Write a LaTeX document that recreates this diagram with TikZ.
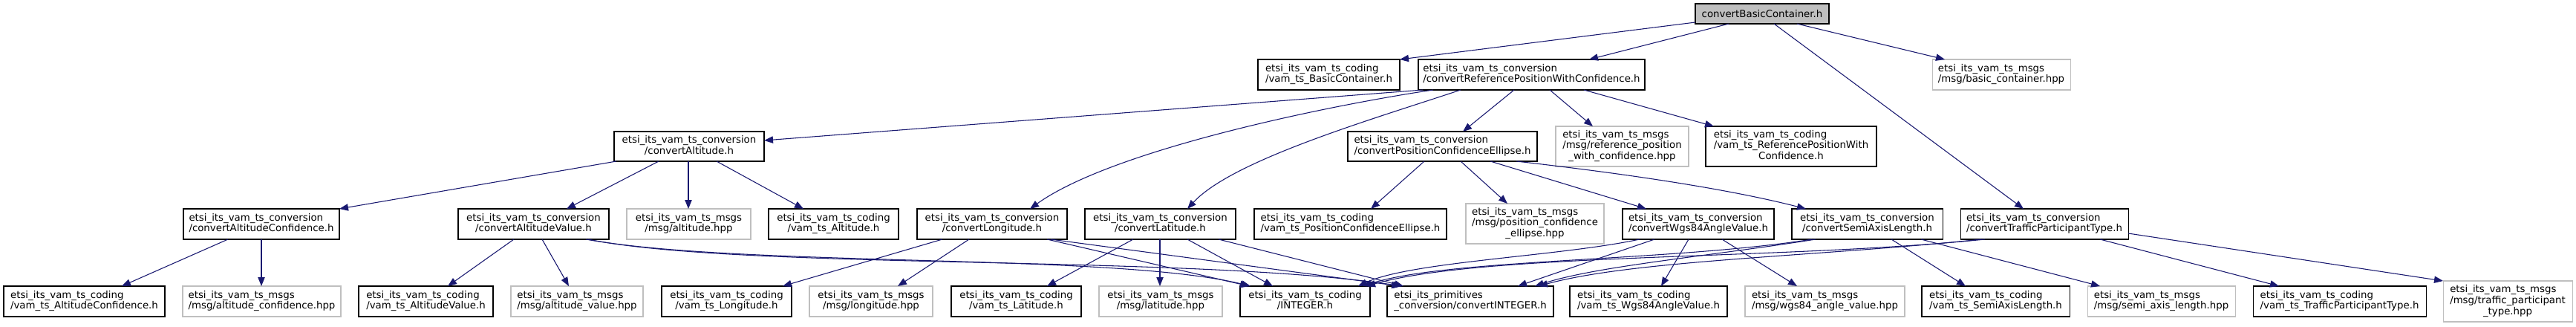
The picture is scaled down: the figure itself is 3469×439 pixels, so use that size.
\documentclass[tikz,border=0pt]{standalone}
\usepackage{fontspec}
\setmainfont{DejaVu Sans}
\usetikzlibrary{arrows.meta,calc}
\definecolor{edgeblue}{HTML}{191970}
\definecolor{greyline}{HTML}{BFBFBF}
\newcommand\Tw[2]{\begin{tabular}{@{}l@{}}#1\\\multicolumn{1}{@{}c@{}}{#2}\end{tabular}}
\newcommand\Th[3]{\begin{tabular}{@{}l@{}}#1\\#2\\\multicolumn{1}{@{}c@{}}{#3}\end{tabular}}
\newcommand\gn[7]{\node[#2,minimum width={(#5-#3)*0.75pt},minimum height={(#6-#4)*0.75pt}] (#1) at ({(#3+#5)/2},{(#4+#6)/2}) {#7};}
\tikzset{
  gbox/.style={inner sep=0pt, outer sep=0pt, line width=0.8pt, fill=white,
    font=\fontsize{10}{11}\selectfont, align=center},
  hdr/.style={gbox, draw=black},
  ext/.style={gbox, draw=greyline},
  root/.style={gbox, draw=black, fill=greyline},
  dep/.style={draw=edgeblue, line width=0.8pt, -{Triangle[length=9pt,width=7pt]}},
}
\begin{document}
\begin{tikzpicture}[x=0.75pt,y=-0.75pt]
\useasboundingbox (0,0) rectangle (3469,439);
% row 0
\gn{top}{root}{2283}{5}{2463}{32}{convertBasicContainer.h}
% row 1
\gn{bc}{hdr}{1694}{80}{1885}{121}{\Tw{etsi\_its\_vam\_ts\_coding}{/vam\_ts\_BasicContainer.h}}
\gn{rp}{hdr}{1910}{80}{2215}{121}{\Tw{etsi\_its\_vam\_ts\_conversion}{/convertReferencePositionWithConfidence.h}}
\gn{bch}{ext}{2602}{80}{2788}{121}{\Tw{etsi\_its\_vam\_ts\_msgs}{/msg/basic\_container.hpp}}
% row 2
\gn{alt}{hdr}{827}{177}{1029}{217}{\Tw{etsi\_its\_vam\_ts\_conversion}{/convertAltitude.h}}
\gn{pce}{hdr}{1815}{177}{2070}{217}{\Tw{etsi\_its\_vam\_ts\_conversion}{/convertPositionConfidenceEllipse.h}}
\gn{rph}{ext}{2095}{170}{2274}{224}{\Th{etsi\_its\_vam\_ts\_msgs}{/msg/reference\_position}{\_with\_confidence.hpp}}
\gn{rpc}{hdr}{2297}{170}{2527}{224}{\Th{etsi\_its\_vam\_ts\_coding}{/vam\_ts\_ReferencePositionWith}{Confidence.h}}
% row 3
\gn{altc}{hdr}{247}{281}{457}{322}{\Tw{etsi\_its\_vam\_ts\_conversion}{/convertAltitudeConfidence.h}}
\gn{altv}{hdr}{617}{281}{820}{322}{\Tw{etsi\_its\_vam\_ts\_conversion}{/convertAltitudeValue.h}}
\gn{alth}{ext}{844}{281}{1011}{322}{\Tw{etsi\_its\_vam\_ts\_msgs}{/msg/altitude.hpp}}
\gn{altd}{hdr}{1035}{281}{1210}{322}{\Tw{etsi\_its\_vam\_ts\_coding}{/vam\_ts\_Altitude.h}}
\gn{lon}{hdr}{1235}{281}{1437}{322}{\Tw{etsi\_its\_vam\_ts\_conversion}{/convertLongitude.h}}
\gn{lat}{hdr}{1461}{281}{1664}{322}{\Tw{etsi\_its\_vam\_ts\_conversion}{/convertLatitude.h}}
\gn{pced}{hdr}{1689}{281}{1948}{322}{\Tw{etsi\_its\_vam\_ts\_coding}{/vam\_ts\_PositionConfidenceEllipse.h}}
\gn{pceh}{ext}{1974}{274}{2160}{328}{\Th{etsi\_its\_vam\_ts\_msgs}{/msg/position\_confidence}{\_ellipse.hpp}}
\gn{wgs}{hdr}{2185}{281}{2389}{322}{\Tw{etsi\_its\_vam\_ts\_conversion}{/convertWgs84AngleValue.h}}
\gn{semi}{hdr}{2413}{281}{2616}{322}{\Tw{etsi\_its\_vam\_ts\_conversion}{/convertSemiAxisLength.h}}
\gn{tpt}{hdr}{2640}{281}{2866}{322}{\Tw{etsi\_its\_vam\_ts\_conversion}{/convertTrafficParticipantType.h}}
% row 4
\gn{altcd}{hdr}{5}{385}{222}{426}{\Tw{etsi\_its\_vam\_ts\_coding}{/vam\_ts\_AltitudeConfidence.h}}
\gn{altch}{ext}{246}{385}{459}{426}{\Tw{etsi\_its\_vam\_ts\_msgs}{/msg/altitude\_confidence.hpp}}
\gn{altvd}{hdr}{483}{385}{664}{426}{\Tw{etsi\_its\_vam\_ts\_coding}{/vam\_ts\_AltitudeValue.h}}
\gn{altvh}{ext}{688}{385}{866}{426}{\Tw{etsi\_its\_vam\_ts\_msgs}{/msg/altitude\_value.hpp}}
\gn{lond}{hdr}{891}{385}{1066}{426}{\Tw{etsi\_its\_vam\_ts\_coding}{/vam\_ts\_Longitude.h}}
\gn{lonh}{ext}{1090}{385}{1256}{426}{\Tw{etsi\_its\_vam\_ts\_msgs}{/msg/longitude.hpp}}
\gn{latd}{hdr}{1281}{385}{1456}{426}{\Tw{etsi\_its\_vam\_ts\_coding}{/vam\_ts\_Latitude.h}}
\gn{lath}{ext}{1480}{385}{1646}{426}{\Tw{etsi\_its\_vam\_ts\_msgs}{/msg/latitude.hpp}}
\gn{intd}{hdr}{1670}{385}{1845}{426}{\Tw{etsi\_its\_vam\_ts\_coding}{/INTEGER.h}}
\gn{cint}{hdr}{1868}{385}{2092}{426}{\Tw{etsi\_its\_primitives}{\_conversion/convertINTEGER.h}}
\gn{wgsd}{hdr}{2114}{385}{2326}{426}{\Tw{etsi\_its\_vam\_ts\_coding}{/vam\_ts\_Wgs84AngleValue.h}}
\gn{wgsh}{ext}{2350}{385}{2565}{426}{\Tw{etsi\_its\_vam\_ts\_msgs}{/msg/wgs84\_angle\_value.hpp}}
\gn{semid}{hdr}{2588}{385}{2787}{426}{\Tw{etsi\_its\_vam\_ts\_coding}{/vam\_ts\_SemiAxisLength.h}}
\gn{semih}{ext}{2811}{385}{3010}{426}{\Tw{etsi\_its\_vam\_ts\_msgs}{/msg/semi\_axis\_length.hpp}}
\gn{tptd}{hdr}{3034}{385}{3267}{426}{\Tw{etsi\_its\_vam\_ts\_coding}{/vam\_ts\_TrafficParticipantType.h}}
\gn{tpth}{ext}{3290}{378}{3464}{433}{\Th{etsi\_its\_vam\_ts\_msgs}{/msg/traffic\_participant}{\_type.hpp}}
% edges from root
\draw[dep] ($(top.south west)+(0,-2)$) -- (bc.north east);
\draw[dep] ($(top.south west)+(45,0)$) -- ($(rp.north west)+(230,0)$);
\draw[dep] ($(top.south west)+(106,0)$) -- ($(tpt.north west)+(85,0)$);
\draw[dep] ($(top.south west)+(137,0)$) -- ($(bch.north west)+(17,0)$);
% from rp
\draw[dep] ($(rp.south west)+(6,0)$) -- ($(alt.north east)+(0,12)$);
\draw[dep] ($(rp.south west)+(20,0)$) .. controls (1800,140) and (1500,200) .. ($(lon.north west)+(152,0)$);
\draw[dep] ($(rp.south west)+(57,0)$) .. controls (1850,160) and (1660,215) .. ($(lat.north west)+(138,0)$);
\draw[dep] ($(rp.south west)+(129,0)$) -- ($(pce.north west)+(155,0)$);
\draw[dep] ($(rp.south west)+(177,0)$) -- ($(rph.north west)+(50,0)$);
\draw[dep] ($(rp.south west)+(223,0)$) -- ($(rpc.north west)+(11,0)$);
% from alt
\draw[dep] ($(alt.south west)+(3,0)$) -- (altc.north east);
\draw[dep] ($(alt.south west)+(60,0)$) -- ($(altv.north west)+(146,0)$);
\draw[dep] ($(alt.south west)+(100,0)$) -- ($(alth.north west)+(83,0)$);
\draw[dep] ($(alt.south west)+(138,0)$) -- ($(altd.north west)+(47,0)$);
% from altc
\draw[dep] ($(altc.south west)+(60,0)$) -- ($(altcd.north west)+(159,0)$);
\draw[dep] ($(altc.south west)+(105,0)$) -- ($(altch.north west)+(106,0)$);
% from altv
\draw[dep] ($(altv.south west)+(75,0)$) -- ($(altvd.north west)+(120,0)$);
\draw[dep] ($(altv.south west)+(113,0)$) -- ($(altvh.north west)+(78,0)$);
\draw[dep] ($(altv.south west)+(172,0)$) .. controls (1000,360) and (1500,340) .. ($(intd.north west)+(14,0)$);
\draw[dep] ($(altv.south west)+(175,0)$) .. controls (1000,364) and (1600,342) .. ($(cint.north west)+(20,0)$);
% from lon
\draw[dep] ($(lon.south west)+(34,0)$) -- ($(lond.north west)+(163,0)$);
\draw[dep] ($(lon.south west)+(70,0)$) -- ($(lonh.north west)+(119,0)$);
\draw[dep] ($(lon.south west)+(175,0)$) -- ($(intd.north west)+(12,0)$);
\draw[dep] ($(lon.south west)+(180,0)$) -- ($(cint.north west)+(18,0)$);
% from lat
\draw[dep] ($(lat.south west)+(65,0)$) -- ($(latd.north west)+(129,0)$);
\draw[dep] ($(lat.south west)+(101,0)$) -- ($(lath.north west)+(82,0)$);
\draw[dep] ($(lat.south west)+(138,0)$) -- ($(intd.north west)+(44,0)$);
\draw[dep] ($(lat.south west)+(180,0)$) -- ($(cint.north west)+(22,0)$);
% from pce
\draw[dep] ($(pce.south west)+(103,0)$) -- ($(pced.north west)+(157,0)$);
\draw[dep] ($(pce.south west)+(152,0)$) -- ($(pceh.north west)+(56,0)$);
\draw[dep] ($(pce.south west)+(192,0)$) -- ($(wgs.north west)+(32,0)$);
\draw[dep] ($(pce.south west)+(227,0)$) .. controls (2200,235) and (2330,255) .. ($(semi.north west)+(19,0)$);
% from wgs
\draw[dep] ($(wgs.south west)+(23,0)$) .. controls (2100,345) and (1900,352) .. ($(intd.north west)+(159,0)$);
\draw[dep] ($(wgs.south west)+(43,0)$) -- ($(cint.north west)+(176,0)$);
\draw[dep] ($(wgs.south west)+(89,0)$) -- ($(wgsd.north west)+(123,0)$);
\draw[dep] ($(wgs.south west)+(134,0)$) -- ($(wgsh.north west)+(70,0)$);
% from semi
\draw[dep] ($(semi.south west)+(27,0)$) .. controls (2250,352) and (1950,348) .. ($(intd.north west)+(165,0)$);
\draw[dep] ($(semi.south west)+(32,0)$) .. controls (2300,345) and (2150,358) .. ($(cint.north west)+(199,0)$);
\draw[dep] ($(semi.south west)+(134,0)$) -- ($(semid.north west)+(59,0)$);
\draw[dep] ($(semi.south west)+(174,0)$) -- ($(semih.north west)+(17,0)$);
% from tpt
\draw[dep] ($(tpt.south west)+(33,0)$) .. controls (2400,350) and (2000,340) .. ($(intd.north west)+(170,0)$);
\draw[dep] ($(tpt.south west)+(28,0)$) .. controls (2450,345) and (2200,350) .. ($(cint.north west)+(204,0)$);
\draw[dep] ($(tpt.south west)+(188,0)$) -- ($(tptd.north west)+(35,0)$);
\draw[dep] ($(tpt.south east)+(0,-8)$) -- (tpth.north west);
\end{tikzpicture}
\end{document}
